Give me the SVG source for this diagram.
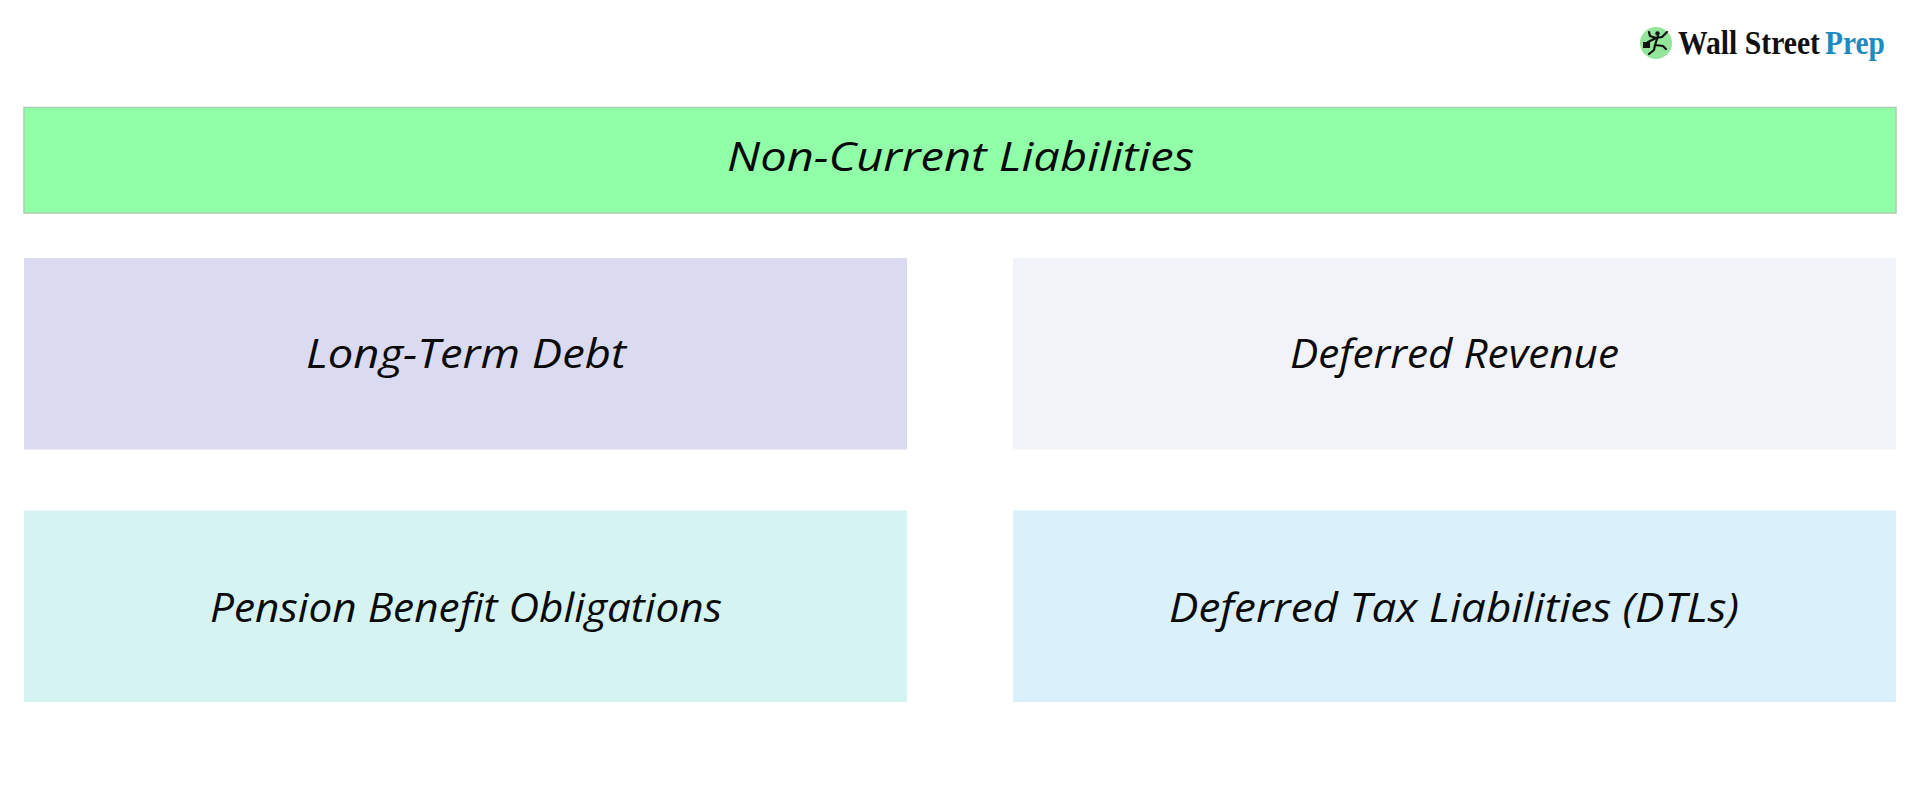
<svg xmlns="http://www.w3.org/2000/svg" width="1920" height="800" viewBox="0 0 1920 800">
<style>
.box{stroke:none}
.lbl{font-family:"Open Sans","Noto Sans",sans-serif;font-style:italic;font-size:41px;fill:#0a0a0a}
.brand{font-family:"Liberation Serif",serif;font-weight:700;font-size:30px}
.fig{fill:none;stroke:#111;stroke-width:2.200;stroke-linecap:round;stroke-linejoin:round}
</style>
<rect width="1920" height="800" fill="#fff"/>
<g id="logo">
<circle cx="1656" cy="43" r="16" fill="#93e59a"/>
<path class="fig" d="M1658 36l-3 9M1656 38l-6-2-1-4M1656 38l6-1 5-5M1655 45l8 1 3 3M1655 45l-1 5-5 4M1656 38l-8 4"/>
<circle cx="1657.500" cy="33.500" r="2.200" fill="#111"/>
<rect x="1643" y="42" width="7" height="6" fill="#111"/>
<g transform="translate(0,54) scale(1,1.1)">
<text class="brand" x="1678" y="0" fill="#111" textLength="142" lengthAdjust="spacingAndGlyphs">Wall Street</text>
<text class="brand" x="1825" y="0" fill="#1f8abf" textLength="60" lengthAdjust="spacingAndGlyphs">Prep</text>
</g>
</g>
<g id="non-current-liabilities">
<rect x="24" y="107.500" width="1872" height="105.500" fill="#90ffa8" stroke="#a8cfb0" stroke-width="1.500"/>
<text class="lbl" x="727" y="171" textLength="467" lengthAdjust="spacingAndGlyphs">Non-Current Liabilities</text>
</g>
<g id="long-term-debt">
<rect class="box" x="24" y="258" width="883" height="191.500" fill="#dadaf1"/>
<text class="lbl" x="306" y="368" textLength="320" lengthAdjust="spacingAndGlyphs">Long-Term Debt</text>
</g>
<g id="deferred-revenue">
<rect class="box" x="1013" y="258" width="883" height="191.500" fill="#f2f3f8"/>
<text class="lbl" x="1290" y="368" textLength="329" lengthAdjust="spacingAndGlyphs">Deferred Revenue</text>
</g>
<g id="pension-benefit-obligations">
<rect class="box" x="24" y="510.500" width="883" height="191.500" fill="#d5f3f1"/>
<text class="lbl" x="210" y="622" textLength="512" lengthAdjust="spacingAndGlyphs">Pension Benefit Obligations</text>
</g>
<g id="deferred-tax-liabilities">
<rect class="box" x="1013" y="510.500" width="883" height="191.500" fill="#daf0fb"/>
<text class="lbl" x="1169" y="622" textLength="570" lengthAdjust="spacingAndGlyphs">Deferred Tax Liabilities (DTLs)</text>
</g>
<g id="connectors"/>
</svg>
